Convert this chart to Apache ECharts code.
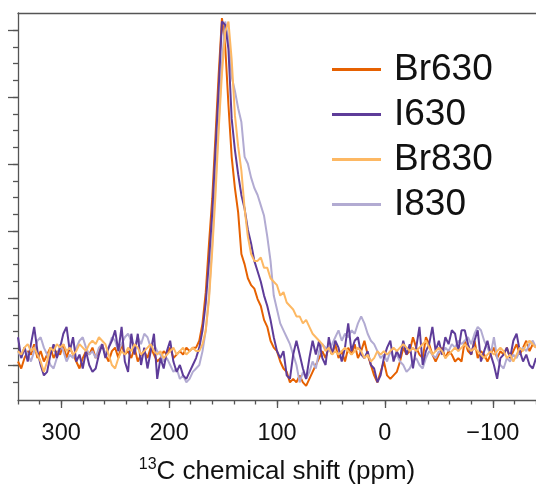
<!DOCTYPE html>
<html>
<head>
<meta charset="utf-8">
<script src="https://cdn.jsdelivr.net/npm/echarts@6/dist/echarts.min.js"></script>
<style>
html,body{margin:0;padding:0;background:#fff;}
#chart{width:536px;height:484px;}
</style>
</head>
<body>
<div id="chart"></div>
<script>
// chemical shift (ppm) sampling positions
const ppm = [
340,337,334,331,328,325,322,319,316,313,
310,307,304,301,298,295,292,289,286,283,
280,277,274,271,268,265,262,259,256,253,
250,247,244,241,238,235,232,229,226,223,
220,217,214,211,208,205,202,199,196,193,
190,187,184,181,178,175,172,169,166,163,
160,157,154,151,148,145,142,139,136,133,
130,127,124,121,118,115,112,109,106,103,
100,97,94,91,88,85,82,79,76,73,
70,67,64,61,58,55,52,49,46,43,
40,37,34,31,28,25,22,19,16,13,
10,7,4,1,-2,-5,-8,-11,-14,-17,
-20,-23,-26,-29,-32,-35,-38,-41,-44,-47,
-50,-53,-56,-59,-62,-65,-68,-71,-74,-77,
-80,-83,-86,-89,-92,-95,-98,-101,-104,-107,
-110,-113,-116,-119,-122,-125,-128,-131,-134,-137,
-140];

// normalised intensity (peak = 100)
const br630 = [
1,-1,2,4,3,6,2,4,1,3,
5,2,4,3,6,2,5,3,1,-1,
2,4,3,5,2,4,6,3,1,4,
5,2,6,3,4,2,5,1,3,4,
2,5,3,1,2,4,3,5,2,3,
4,3,5,4,5,5,7,12,21,35,
48,66,84,100,92,75,60,51,44,32,
29,25,23,22,19,17,13,11,7,5,
4,1,-1,-2,-5,-4,-5,-3,-5,-6,
-4,-2,0,2,4,2,5,3,6,2,
4,1,5,3,6,2,4,7,3,0,
-3,-5,-2,1,-3,-4,-3,-2,1,5,
3,4,8,5,3,2,8,6,3,1,
3,5,2,4,3,1,2,1,7,4,
3,7,2,4,3,1,3,5,2,4,
3,5,2,4,6,3,5,7,4,6,
5];

const i630 = [
8,2,5,1,6,11,4,0,-3,-2,
3,6,2,5,9,11,4,8,1,3,
-1,4,0,-2,-1,3,6,2,5,7,
10,4,11,1,-2,9,3,9,0,5,
-1,4,9,-4,2,-1,4,7,1,-2,
0,-3,-4,-2,0,2,5,10,18,30,
44,62,80,99,98,91,71,62,55,49,
45,39,35,30,27,24,20,17,13,8,
4,2,4,-3,-4,3,7,3,-1,-4,
2,7,3,7,2,0,8,3,7,5,
1,5,12,4,7,8,3,2,4,0,
-1,-5,-3,2,5,7,1,4,2,7,
3,6,-1,5,11,0,4,6,11,4,
7,3,8,6,10,9,4,10,10,6,
3,7,10,1,4,7,3,0,-4,2,
3,5,2,7,9,4,1,3,0,-1,
2];

const br830 = [
4,3,5,6,4,5,3,1,-2,1,
5,4,6,5,6,4,5,3,4,6,
5,4,6,7,6,8,7,6,3,0,
-1,2,4,3,5,4,6,5,3,4,
5,6,4,3,4,2,3,4,5,3,
4,5,3,4,5,4,4,6,10,19,
33,49,68,84,96,99,88,72,63,56,
45,37,32,30,30,31,28,28,25,24,
23,20,21,18,17,16,14,14,12,13,
11,9,8,7,6,4,5,3,4,3,
4,5,4,3,4,5,4,2,3,1,
2,4,3,4,3,4,5,4,5,6,
5,4,5,4,5,6,7,5,3,4,
5,4,2,3,4,5,4,5,6,5,
4,5,4,3,2,3,4,3,4,5,
4,2,3,1,3,5,4,6,7,6,
5];

const i830 = [
4,2,5,3,1,4,7,8,5,3,
0,-1,2,6,4,1,3,2,5,7,
8,5,3,4,2,5,6,3,5,8,
7,4,6,8,9,7,5,8,6,9,
8,5,6,4,3,1,2,0,-2,-1,
-4,-3,-5,-4,-2,-1,0,4,10,20,
35,52,70,87,99,94,83,79,74,70,
60,58,54,51,49,46,43,37,30,20,
16,12,10,8,6,3,0,-5,-2,-4,
-2,1,-1,4,6,5,4,6,8,10,
7,9,8,10,9,12,14,12,9,7,
6,4,2,3,1,4,2,3,1,0,
-2,-1,1,2,0,-1,2,4,3,2,
4,3,5,4,6,5,7,6,7,8,
6,9,11,10,7,5,3,8,2,0,
-1,2,1,3,2,4,5,4,6,7,
5];

const seriesNames = ['Br630', 'I630', 'Br830', 'I830'];
const seriesColors = {Br630: '#e66101', I630: '#5e3c99', Br830: '#fdb863', I830: '#b2abd2'};
const seriesValues = {Br630: br630, I630: i630, Br830: br830, I830: i830};
const drawOrder = ['Br630', 'I830', 'I630', 'Br830'];

const FONT = '"Liberation Sans", Arial, sans-serif';
const AX = '#555';

const chart = echarts.init(document.getElementById('chart'), null, {renderer: 'canvas'});

const series = drawOrder.map(name => ({
  name: name,
  type: 'line',
  xAxisIndex: 0,
  yAxisIndex: 0,
  showSymbol: false,
  symbol: 'none',
  data: ppm.map((p, i) => [p, seriesValues[name][i]]),
  lineStyle: {width: 2, color: seriesColors[name]},
  itemStyle: {color: seriesColors[name]},
  z: 3
}));

const gridBase = {containLabel: false, outerBoundsMode: 'none'};

chart.setOption({
  animation: false,
  backgroundColor: '#fff',
  textStyle: {fontFamily: FONT},
  grid: [
    Object.assign({left: 18, right: 0, top: 13, bottom: 84}, gridBase),
    Object.assign({left: 61.2, right: 43.2, top: 13, bottom: 84}, gridBase),
    Object.assign({left: 18, right: 0, top: 30, bottom: 119}, gridBase),
    Object.assign({left: 18, right: 0, top: 30, bottom: 102}, gridBase)
  ],
  legend: {
    data: seriesNames,
    orient: 'vertical',
    left: 332,
    top: 49.5,
    padding: 0,
    icon: 'rect',
    itemWidth: 49,
    itemHeight: 3,
    itemGap: 5,
    textStyle: {fontSize: 37, color: '#111', fontFamily: FONT, lineHeight: 40, padding: [0, 0, 0, 8]}
  },
  xAxis: [
    {
      gridIndex: 0, type: 'value', min: -140, max: 340, inverse: true, interval: 20,
      position: 'bottom',
      axisLine: {show: true, onZero: false, lineStyle: {color: AX, width: 1.3}},
      axisTick: {show: true, length: 4.5, lineStyle: {color: AX, width: 1.3}},
      axisLabel: {show: false}, splitLine: {show: false}
    },
    {
      gridIndex: 1, type: 'value', min: -100, max: 300, inverse: true, interval: 100,
      position: 'bottom',
      axisLine: {show: false, onZero: false},
      axisTick: {show: true, length: 8, lineStyle: {color: AX, width: 1.3}},
      axisLabel: {show: true, fontSize: 23.5, color: '#111', fontFamily: FONT, margin: 22,
        formatter: v => (v < 0 ? '\u2212' + Math.abs(v) : String(v))},
      splitLine: {show: false},
      name: '{sup|13}C chemical shift (ppm)',
      nameLocation: 'middle',
      nameGap: 57,
      nameTextStyle: {fontSize: 26, color: '#111', fontFamily: FONT, lineHeight: 30,
        rich: {sup: {fontSize: 16, color: '#111', fontFamily: FONT, verticalAlign: 'top', lineHeight: 16}}}
    },
    {
      gridIndex: 0, type: 'value', min: -140, max: 340, inverse: true, position: 'top',
      axisLine: {show: true, onZero: false, lineStyle: {color: AX, width: 1.3}},
      axisTick: {show: false}, axisLabel: {show: false}, splitLine: {show: false}
    },
    {gridIndex: 2, type: 'value', show: false, axisLine: {onZero: false}},
    {gridIndex: 3, type: 'value', show: false, axisLine: {onZero: false}}
  ],
  yAxis: [
    {
      gridIndex: 0, type: 'value', min: -10.086, max: 101.44,
      axisLine: {show: true, onZero: false, lineStyle: {color: AX, width: 1.3}},
      axisTick: {show: false}, axisLabel: {show: false}, splitLine: {show: false}
    },
    {gridIndex: 1, type: 'value', show: false, axisLine: {onZero: false}},
    {
      gridIndex: 2, type: 'value', min: 0, max: 5, interval: 1,
      axisLine: {show: false, onZero: false},
      axisTick: {show: true, length: 10, lineStyle: {color: AX, width: 1.3}},
      axisLabel: {show: false}, splitLine: {show: false}
    },
    {
      gridIndex: 3, type: 'value', min: 0, max: 21, interval: 1,
      axisLine: {show: false, onZero: false},
      axisTick: {show: true, length: 5, lineStyle: {color: AX, width: 1.3}},
      axisLabel: {show: false}, splitLine: {show: false}
    }
  ],
  series: series
});
</script>
</body>
</html>
